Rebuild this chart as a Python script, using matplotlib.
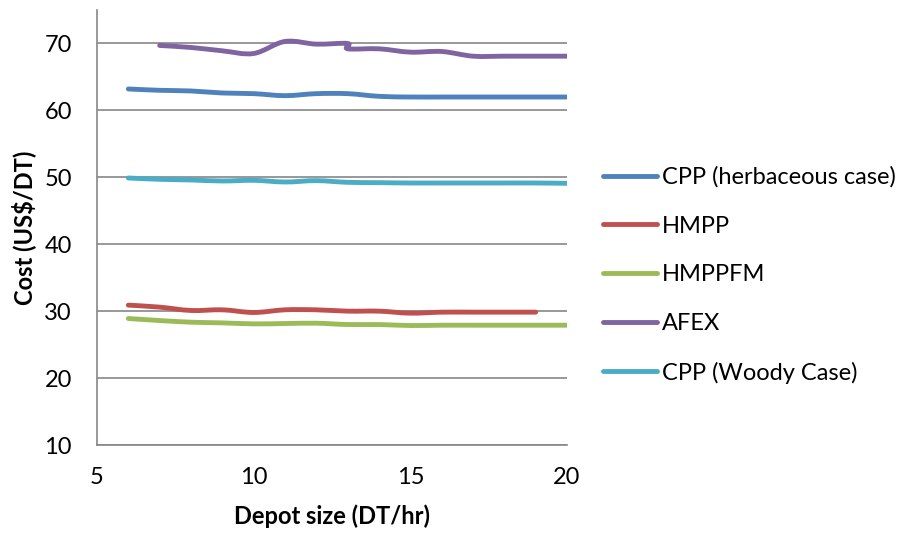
import matplotlib.pyplot as plt
import numpy as np
from matplotlib.path import Path
from matplotlib.patches import PathPatch
from matplotlib.lines import Line2D

plt.rcParams['font.family'] = ['Lato', 'DejaVu Sans']

# Data
x_herb = [6, 7, 8, 9, 10, 11, 12, 13, 14, 15, 16, 17, 18, 19, 20]
cpp_herb = [63.2, 63.0, 62.9, 62.6, 62.5, 62.2, 62.5, 62.5, 62.1, 62.0, 62.0, 62.0, 62.0, 62.0, 62.0]

x_hmpp = [6, 7, 8, 9, 10, 11, 12, 13, 14, 15, 16, 17, 18, 19]
hmpp = [30.9, 30.6, 30.1, 30.2, 29.8, 30.2, 30.2, 30.0, 30.0, 29.7, 29.85, 29.85, 29.85, 29.85]

x_hmppfm = [6, 7, 8, 9, 10, 11, 12, 13, 14, 15, 16, 17, 18, 19, 20]
hmppfm = [28.9, 28.6, 28.35, 28.25, 28.1, 28.15, 28.2, 28.0, 28.0, 27.85, 27.9, 27.9, 27.9, 27.9, 27.9]

x_afex = [7, 8, 9, 10, 11, 12, 13, 13, 14, 15, 16, 17, 18, 19, 20]
afex = [69.7, 69.4, 68.9, 68.5, 70.3, 69.9, 70.0, 69.2, 69.2, 68.7, 68.8, 68.1, 68.1, 68.1, 68.1]

x_woody = [6, 7, 8, 9, 10, 11, 12, 13, 14, 15, 16, 17, 18, 19, 20]
cpp_woody = [49.9, 49.7, 49.6, 49.45, 49.55, 49.3, 49.5, 49.25, 49.2, 49.15, 49.15, 49.15, 49.15, 49.15, 49.1]

series = [
    ('CPP (herbaceous case)', x_herb, cpp_herb, '#4F81BD'),
    ('HMPP', x_hmpp, hmpp, '#C0504D'),
    ('HMPPFM', x_hmppfm, hmppfm, '#9BBB59'),
    ('AFEX', x_afex, afex, '#8064A2'),
    ('CPP (Woody Case)', x_woody, cpp_woody, '#4BACC6'),
]


def smooth_path(xs, ys):
    # Excel-style smoothed line: Bezier segments through every point
    pts = np.column_stack([xs, ys]).astype(float)
    ext = np.vstack([pts[0], pts, pts[-1]])
    verts = [pts[0]]
    codes = [Path.MOVETO]
    for i in range(1, len(ext) - 2):
        p0, p1, p2, p3 = ext[i - 1], ext[i], ext[i + 1], ext[i + 2]
        verts += [p1 + (p2 - p0) / 6, p2 - (p3 - p1) / 6, p2]
        codes += [Path.CURVE4] * 3
    return Path(verts, codes)


fig = plt.figure(figsize=(9.06, 5.36), dpi=100)
ax = fig.add_axes([97 / 906, 1 - 445 / 536, 470 / 906, 435 / 536])

handles = []
for name, xs, ys, color in series:
    patch = PathPatch(smooth_path(xs, ys), fill=False, edgecolor=color,
                      lw=3.5, capstyle='round', joinstyle='round', zorder=3)
    ax.add_patch(patch)
    handles.append(Line2D([], [], color=color, lw=3.5, solid_capstyle='round', label=name))

ax.set_xlim(5, 20)
ax.set_ylim(10, 75)
ax.set_xticks([5, 10, 15, 20])
ax.set_yticks([10, 20, 30, 40, 50, 60, 70])
ax.yaxis.grid(True, color='#868686', lw=1.2)
ax.set_axisbelow(True)
for s in ['top', 'right']:
    ax.spines[s].set_visible(False)
for s in ['left', 'bottom']:
    ax.spines[s].set_color('#868686')
    ax.spines[s].set_linewidth(1.2)
ax.tick_params(axis='both', length=0, labelsize=17, colors='black')
ax.tick_params(axis='x', pad=16)
ax.tick_params(axis='y', pad=18)

ax.set_xlabel('Depot size (DT/hr)', fontsize=17, fontweight='bold', labelpad=12)
ax.set_ylabel('Cost (US$/DT)', fontsize=17, fontweight='bold', labelpad=6)

fig.legend(handles=handles, loc='center left', bbox_to_anchor=(603 / 906, 1 - 275 / 536),
           frameon=False, fontsize=17, handlelength=2.3, handletextpad=0.21,
           labelspacing=1.17, borderpad=0, borderaxespad=0)

fig.savefig('out.png', dpi=100)
